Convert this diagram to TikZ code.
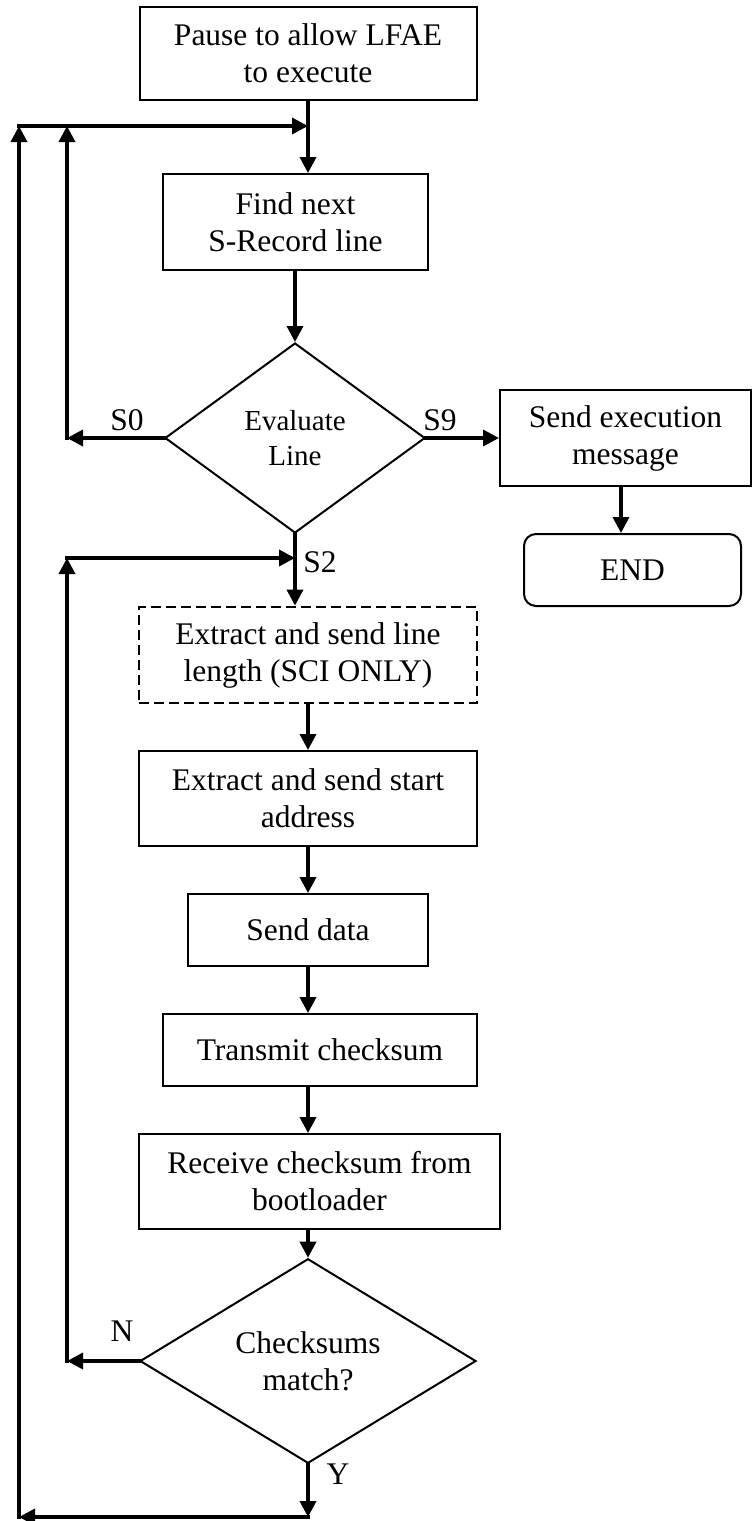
\documentclass[tikz,border=0pt]{standalone}
\usepackage{fontspec}
\setmainfont{Liberation Serif}
\usetikzlibrary{shapes.geometric,arrows.meta}
\begin{document}
\begin{tikzpicture}[x=1pt,y=-1pt,
  every node/.style={font=\fontsize{31.5}{37}\selectfont},
  proc/.style={draw, line width=2pt, align=center, inner sep=0pt},
  decide/.style={draw, diamond, line width=2pt, align=center, inner sep=0pt},
  flow/.style={line width=3.5pt, line cap=rect, -{Triangle[length=16pt,width=16pt]}},
  link/.style={line width=3.5pt, line cap=rect},
  tag/.style={inner sep=0pt}]
\useasboundingbox (0,0) rectangle (753,1521);

% process steps
\node[proc, minimum width=337pt, minimum height=93pt] (pause) at (308,53.5) {Pause to allow LFAE\\to execute};
\node[proc, minimum width=265pt, minimum height=96pt] (find) at (295.5,222) {Find next\\S-Record line};
\node[decide, minimum width=260pt, minimum height=190pt, font=\fontsize{29}{35}\selectfont] (eval) at (295,438) {Evaluate\\Line};
\node[proc, minimum width=251pt, minimum height=96pt] (exec) at (625.5,438) {Send execution\\message};
\node[proc, rounded corners=12pt, minimum width=217pt, minimum height=72pt] (end) at (632.5,570) {END};
\node[proc, line width=2.8pt, dash pattern=on 10pt off 5pt, minimum width=338pt, minimum height=96pt] (len) at (308,655) {Extract and send line\\length (SCI ONLY)};
\node[proc, minimum width=338pt, minimum height=95pt] (addr) at (308,798.5) {Extract and send start\\address};
\node[proc, minimum width=240pt, minimum height=72pt] (data) at (308,930) {Send data};
\node[proc, minimum width=314pt, minimum height=72pt] (tx) at (320,1050) {Transmit checksum};
\node[proc, minimum width=361pt, minimum height=95pt] (rx) at (319.5,1181.5) {Receive checksum from\\bootloader};
\node[decide, minimum width=336pt, minimum height=166pt] (match) at (308,1361) {Checksums\\match?};

% junction points of the return loops
\coordinate (top) at (308,126);
\coordinate (outer) at (19,126);
\coordinate (inner) at (67,126);
\coordinate (s0) at (67,438);
\coordinate (s2) at (295,558);
\coordinate (nloop) at (67,558);
\coordinate (nend) at (67,1361);
\coordinate (bottom) at (308,1517);
\coordinate (corner) at (19,1517);
\coordinate (execx) at (621,0);

% main flow
\draw[link] (pause.south) -- (top);
\draw[flow] (top) -- (top |- find.north);
\draw[flow] (eval.north |- find.south) -- (eval.north);
\draw[flow] (eval.east) -- (exec.west);
\draw[flow] (execx |- exec.south) -- (execx |- end.north);
\draw[flow] (eval.south) -- (eval.south |- len.north);
\draw[flow] (data.north |- len.south) -- (data.north |- addr.north);
\draw[flow] (data.north |- addr.south) -- (data.north);
\draw[flow] (data.south) -- (data.south |- tx.north);
\draw[flow] (data.south |- tx.south) -- (data.south |- rx.north);
\draw[flow] (match.north |- rx.south) -- (match.north);

% S0 loop
\draw[flow] (eval.west) -- (s0);
\draw[flow] (s0) -- (inner);

% checksum mismatch loop
\draw[flow] (match.west) -- (nend);
\draw[flow] (nend) -- (nloop);
\draw[flow] (nloop) -- (s2);

% checksum match loop
\draw[flow] (match.south) -- (bottom);
\draw[flow] (bottom) -- (corner);
\draw[flow] (corner) -- (outer);
\draw[flow] (outer) -- (top);

% branch labels
\node[tag] (lS0) at (127,420) {S0};
\node[tag] (lS9) at (440,420) {S9};
\node[tag] (lS2) at (320,562) {S2};
\node[tag] (lN) at (122,1331) {N};
\node[tag] (lY) at (338,1474) {Y};
\end{tikzpicture}
\end{document}
